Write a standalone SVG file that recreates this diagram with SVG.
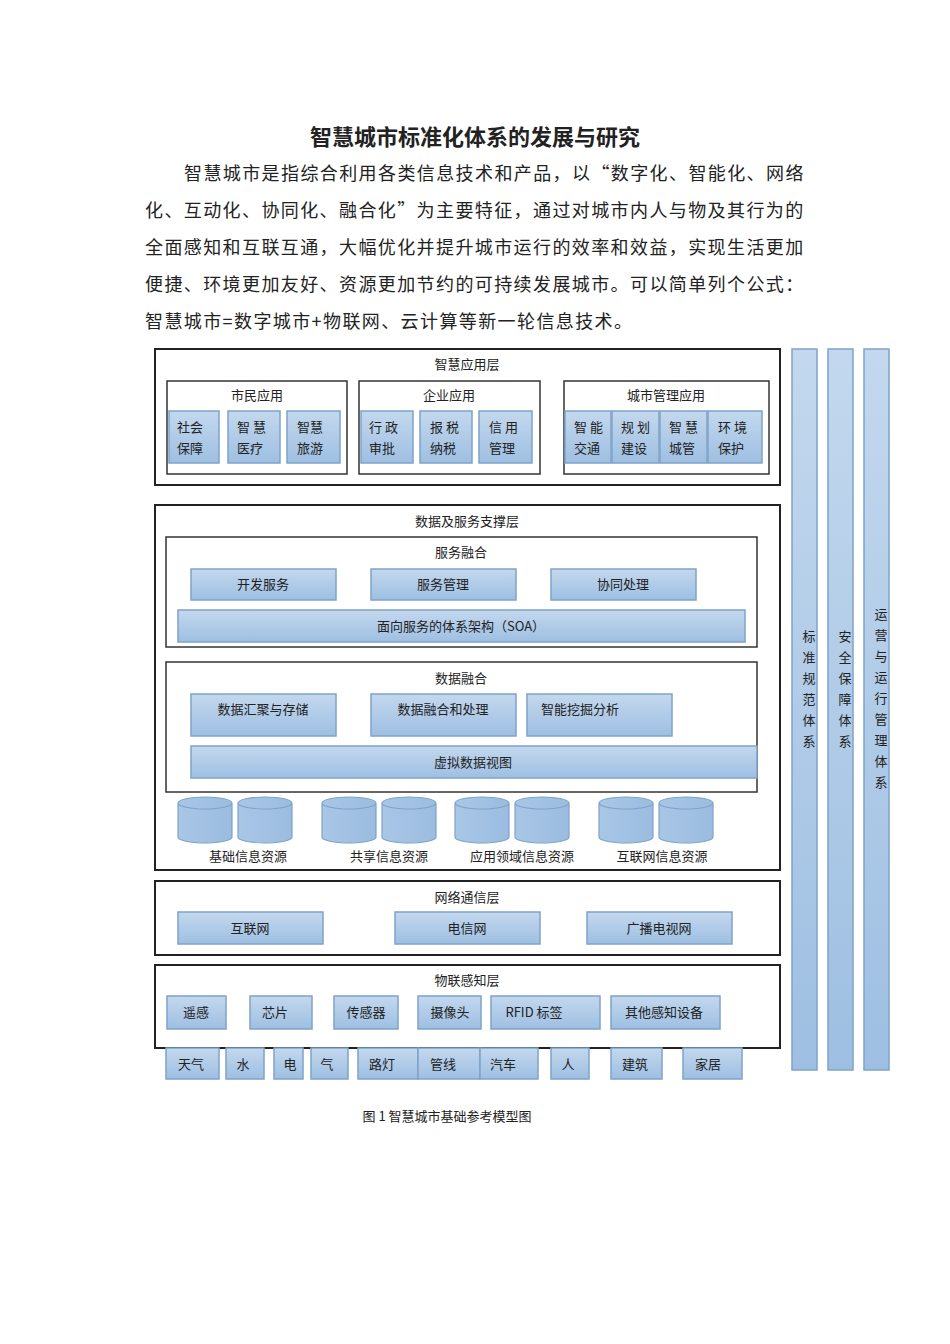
<svg xmlns="http://www.w3.org/2000/svg" width="950" height="1344" viewBox="0 0 950 1344">
<defs>
<linearGradient id="g" x1="0" y1="0" x2="0" y2="1"><stop offset="0" stop-color="#c3d8ee"/><stop offset="1" stop-color="#9ebfe2"/></linearGradient>
<linearGradient id="cy" x1="0" y1="0" x2="1" y2="0"><stop offset="0" stop-color="#a9c6e6"/><stop offset="1" stop-color="#9bbce0"/></linearGradient>
</defs>
<style>
text{font-family:"Noto Sans CJK SC","Liberation Serif",serif;fill:#222}
.p{font-size:18px;letter-spacing:1.4px}
.t{font-size:22px;font-weight:bold;text-anchor:middle}
.l{font-size:13px;text-anchor:middle}
.c{font-size:13px}
.box{fill:#fff;stroke:#222;stroke-width:2}
.sub{fill:#fff;stroke:#333;stroke-width:1.5}
.b{fill:url(#g);stroke:#7fa3c8;stroke-width:1.5}
.cyl{fill:url(#cy);stroke:#7fa3c8;stroke-width:1.2}
</style>
<rect width="950" height="1344" fill="#fff"/>
<text class="t" x="475" y="145">智慧城市标准化体系的发展与研究</text>
<text class="p" x="184" y="180">智慧城市是指综合利用各类信息技术和产品，以“数字化、智能化、网络</text>
<text class="p" x="145" y="217">化、互动化、协同化、融合化”为主要特征，通过对城市内人与物及其行为的</text>
<text class="p" x="145" y="254">全面感知和互联互通，大幅优化并提升城市运行的效率和效益，实现生活更加</text>
<text class="p" x="145" y="291">便捷、环境更加友好、资源更加节约的可持续发展城市。可以简单列个公式：</text>
<text class="p" x="145" y="328">智慧城市=数字城市+物联网、云计算等新一轮信息技术。</text>

<g id="app-layer">
<rect class="box" x="155" y="349" width="625" height="136"/>
<text class="l" x="467" y="369">智慧应用层</text>
<rect class="sub" x="167" y="381" width="180" height="93"/><text class="l" x="257" y="400">市民应用</text>
<rect class="sub" x="359" y="381" width="181" height="93"/><text class="l" x="449" y="400">企业应用</text>
<rect class="sub" x="564" y="381" width="205" height="93"/><text class="l" x="666" y="400">城市管理应用</text>
<rect class="b" x="169" y="411" width="50" height="52"/><text class="c" x="177" y="432">社会</text><text class="c" x="177" y="453">保障</text>
<rect class="b" x="228" y="411" width="52" height="52"/><text class="c" x="237" y="432" letter-spacing="3">智慧</text><text class="c" x="237" y="453">医疗</text>
<rect class="b" x="287" y="411" width="53" height="52"/><text class="c" x="297" y="432">智慧</text><text class="c" x="297" y="453">旅游</text>
<rect class="b" x="361" y="411" width="52" height="52"/><text class="c" x="369" y="432" letter-spacing="3">行政</text><text class="c" x="369" y="453">审批</text>
<rect class="b" x="420" y="411" width="52" height="52"/><text class="c" x="430" y="432" letter-spacing="3">报税</text><text class="c" x="430" y="453">纳税</text>
<rect class="b" x="479" y="411" width="53" height="52"/><text class="c" x="489" y="432" letter-spacing="3">信用</text><text class="c" x="489" y="453">管理</text>
<rect class="b" x="565" y="411" width="46" height="52"/><text class="c" x="574" y="432" letter-spacing="3">智能</text><text class="c" x="574" y="453">交通</text>
<rect class="b" x="612" y="411" width="47" height="52"/><text class="c" x="621" y="432" letter-spacing="3">规划</text><text class="c" x="621" y="453">建设</text>
<rect class="b" x="660" y="411" width="47" height="52"/><text class="c" x="669" y="432" letter-spacing="3">智慧</text><text class="c" x="669" y="453">城管</text>
<rect class="b" x="708" y="411" width="54" height="52"/><text class="c" x="718" y="432" letter-spacing="3">环境</text><text class="c" x="718" y="453">保护</text>
</g>

<g id="data-layer">
<rect class="box" x="155" y="505" width="625" height="365"/>
<text class="l" x="467" y="526">数据及服务支撑层</text>
<rect class="sub" x="166" y="537" width="591" height="110"/>
<text class="l" x="461" y="557">服务融合</text>
<rect class="b" x="191" y="569" width="145" height="31"/><text class="l" x="263" y="589">开发服务</text>
<rect class="b" x="371" y="569" width="145" height="31"/><text class="l" x="443" y="589">服务管理</text>
<rect class="b" x="551" y="569" width="145" height="31"/><text class="l" x="623" y="589">协同处理</text>
<rect class="b" x="178" y="610" width="567" height="32"/><text class="l" x="461" y="631">面向服务的体系架构（SOA）</text>
<rect class="sub" x="166" y="662" width="591" height="130"/>
<text class="l" x="461" y="683">数据融合</text>
<rect class="b" x="191" y="694" width="145" height="42"/><text class="l" x="263" y="714">数据汇聚与存储</text>
<rect class="b" x="371" y="694" width="145" height="42"/><text class="l" x="443" y="714">数据融合和处理</text>
<rect class="b" x="527" y="694" width="145" height="42"/><text class="l" x="580" y="714">智能挖掘分析</text>
<rect class="b" x="191" y="746" width="566" height="32"/><text class="l" x="473" y="767">虚拟数据视图</text>
<g id="cylinders">
<path class="cyl" d="M178,803 v34 a27,6 0 0 0 54,0 v-34 a27,6 0 0 0 -54,0 a27,6 0 0 0 54,0"/>
<path class="cyl" d="M238,803 v34 a27,6 0 0 0 54,0 v-34 a27,6 0 0 0 -54,0 a27,6 0 0 0 54,0"/>
<path class="cyl" d="M322,803 v34 a27,6 0 0 0 54,0 v-34 a27,6 0 0 0 -54,0 a27,6 0 0 0 54,0"/>
<path class="cyl" d="M382,803 v34 a27,6 0 0 0 54,0 v-34 a27,6 0 0 0 -54,0 a27,6 0 0 0 54,0"/>
<path class="cyl" d="M455,803 v34 a27,6 0 0 0 54,0 v-34 a27,6 0 0 0 -54,0 a27,6 0 0 0 54,0"/>
<path class="cyl" d="M515,803 v34 a27,6 0 0 0 54,0 v-34 a27,6 0 0 0 -54,0 a27,6 0 0 0 54,0"/>
<path class="cyl" d="M599,803 v34 a27,6 0 0 0 54,0 v-34 a27,6 0 0 0 -54,0 a27,6 0 0 0 54,0"/>
<path class="cyl" d="M659,803 v34 a27,6 0 0 0 54,0 v-34 a27,6 0 0 0 -54,0 a27,6 0 0 0 54,0"/>
</g>
<text class="l" x="248" y="861">基础信息资源</text>
<text class="l" x="389" y="861">共享信息资源</text>
<text class="l" x="522" y="861">应用领域信息资源</text>
<text class="l" x="662" y="861">互联网信息资源</text>
</g>

<g id="net-layer">
<rect class="box" x="155" y="881" width="625" height="74"/>
<text class="l" x="467" y="902">网络通信层</text>
<rect class="b" x="178" y="912" width="145" height="32"/><text class="l" x="250" y="933">互联网</text>
<rect class="b" x="395" y="912" width="145" height="32"/><text class="l" x="467" y="933">电信网</text>
<rect class="b" x="587" y="912" width="145" height="32"/><text class="l" x="659" y="933">广播电视网</text>
</g>

<g id="iot-layer">
<rect class="box" x="155" y="965" width="625" height="83"/>
<text class="l" x="467" y="985">物联感知层</text>
<rect class="b" x="167" y="996" width="59" height="33"/><text class="l" x="196" y="1017">遥感</text>
<rect class="b" x="250" y="996" width="62" height="33"/><text class="l" x="275" y="1017">芯片</text>
<rect class="b" x="334" y="996" width="64" height="33"/><text class="l" x="366" y="1017">传感器</text>
<rect class="b" x="418" y="996" width="63" height="33"/><text class="l" x="450" y="1017">摄像头</text>
<rect class="b" x="491" y="996" width="109" height="33"/><text class="l" x="534" y="1017">RFID 标签</text>
<rect class="b" x="611" y="996" width="109" height="33"/><text class="l" x="664" y="1017">其他感知设备</text>
</g>

<g id="objects">
<rect class="b" x="166" y="1048" width="53" height="31"/><text class="l" x="191" y="1069">天气</text>
<rect class="b" x="226" y="1048" width="38" height="31"/><text class="l" x="243" y="1069">水</text>
<rect class="b" x="274" y="1048" width="29" height="31"/><text class="l" x="290" y="1069">电</text>
<rect class="b" x="311" y="1048" width="37" height="31"/><text class="l" x="327" y="1069">气</text>
<rect class="b" x="358" y="1048" width="60" height="31"/><text class="l" x="382" y="1069">路灯</text>
<rect class="b" x="418" y="1048" width="62" height="31"/><text class="l" x="443" y="1069">管线</text>
<rect class="b" x="480" y="1048" width="58" height="31"/><text class="l" x="503" y="1069">汽车</text>
<rect class="b" x="551" y="1048" width="38" height="31"/><text class="l" x="568" y="1069">人</text>
<rect class="b" x="611" y="1048" width="51" height="31"/><text class="l" x="635" y="1069">建筑</text>
<rect class="b" x="683" y="1048" width="59" height="31"/><text class="l" x="708" y="1069">家居</text>
</g>

<g id="side-bars">
<rect class="b" x="792" y="349" width="25" height="721"/>
<rect class="b" x="828" y="349" width="25" height="721"/>
<rect class="b" x="864" y="349" width="25" height="721"/>
<text class="l" x="809" y="641">标</text><text class="l" x="809" y="662">准</text><text class="l" x="809" y="683">规</text><text class="l" x="809" y="704">范</text><text class="l" x="809" y="725">体</text><text class="l" x="809" y="746">系</text>
<text class="l" x="845" y="641">安</text><text class="l" x="845" y="662">全</text><text class="l" x="845" y="683">保</text><text class="l" x="845" y="704">障</text><text class="l" x="845" y="725">体</text><text class="l" x="845" y="746">系</text>
<text class="l" x="881" y="619">运</text><text class="l" x="881" y="640">营</text><text class="l" x="881" y="661">与</text><text class="l" x="881" y="682">运</text><text class="l" x="881" y="703">行</text><text class="l" x="881" y="724">管</text><text class="l" x="881" y="745">理</text><text class="l" x="881" y="766">体</text><text class="l" x="881" y="787">系</text>
</g>
<g id="connectors"/>
<text class="l" x="447" y="1121">图 1 智慧城市基础参考模型图</text>
</svg>
